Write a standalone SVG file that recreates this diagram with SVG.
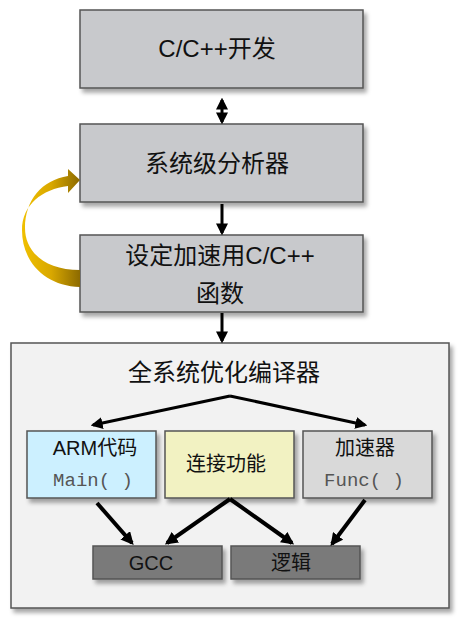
<svg xmlns="http://www.w3.org/2000/svg" width="465" height="622" viewBox="0 0 465 622">
<defs>
<filter id="sh" x="-10%" y="-10%" width="130%" height="140%">
<feDropShadow dx="3" dy="4" stdDeviation="2" flood-color="#000" flood-opacity="0.35"/>
</filter>
<linearGradient id="gold" x1="0" y1="0" x2="1" y2="0">
<stop offset="0" stop-color="#f0c000"/>
<stop offset="0.5" stop-color="#d9a800"/>
<stop offset="1" stop-color="#8c6a00"/>
</linearGradient>
<marker id="ah" viewBox="0 0 10 10" refX="8" refY="5" markerWidth="4" markerHeight="4" orient="auto-start-reverse" markerUnits="strokeWidth">
<path d="M0,0 L10,5 L0,10 Z" fill="#000"/>
</marker>
<marker id="ah2" viewBox="0 0 10 10" refX="8" refY="5" markerWidth="3.2" markerHeight="3.2" orient="auto" markerUnits="strokeWidth">
<path d="M0,0 L10,5 L0,10 Z" fill="#000"/>
</marker>
<style>
.box{stroke:#555;stroke-width:1.5;filter:url(#sh)}
.g{fill:#c8c9cc}
.t{font-family:"Liberation Sans","Noto Sans CJK SC",sans-serif;fill:#111;text-anchor:middle}
.m{font-family:"Liberation Mono",monospace;fill:#555;text-anchor:middle;font-size:19px}
.c{stroke:#000;stroke-width:3;fill:none;marker-end:url(#ah)}
.d{stroke:#000;stroke-width:4;fill:none;marker-end:url(#ah2)}
</style>
</defs>
<g id="outer">
<rect class="box" x="11" y="343" width="438" height="265" fill="#f2f2f2"/>
<text class="t" x="224" y="381" font-size="24">全系统优化编译器</text>
</g>
<g id="n1">
<rect class="box g" x="80" y="10" width="283" height="78"/>
<text class="t" x="217" y="57" font-size="24">C/C++开发</text>
</g>
<g id="n2">
<rect class="box g" x="80" y="124" width="283" height="78"/>
<text class="t" x="217" y="172" font-size="24">系统级分析器</text>
</g>
<g id="n3">
<rect class="box g" x="80" y="235" width="283" height="77"/>
<text class="t" x="220" y="264" font-size="24">设定加速用C/C++</text>
<text class="t" x="220" y="302" font-size="24">函数</text>
</g>
<g id="arm">
<rect class="box" x="27" y="431" width="129" height="67" fill="#ccf0ff"/>
<text class="t" x="95" y="455" font-size="20">ARM代码</text>
<text class="m" x="93" y="486">Main( )</text>
</g>
<g id="link">
<rect class="box" x="165" y="431" width="129" height="67" fill="#f2f2c2"/>
<text class="t" x="226" y="471" font-size="20">连接功能</text>
</g>
<g id="acc">
<rect class="box" x="303" y="431" width="129" height="67" fill="#d9d9d9"/>
<text class="t" x="365" y="455" font-size="20">加速器</text>
<text class="m" x="364" y="486">Func( )</text>
</g>
<g id="gcc">
<rect class="box" x="93" y="546" width="129" height="33" fill="#7a7a7a"/>
<text class="t" x="151" y="570" font-size="20">GCC</text>
</g>
<g id="logic">
<rect class="box" x="231" y="546" width="129" height="33" fill="#7a7a7a"/>
<text class="t" x="291" y="570" font-size="20">逻辑</text>
</g>
<g id="connectors">
<line class="c" x1="222" y1="100" x2="222" y2="122" style="marker-start:url(#ah)"/>
<line class="c" x1="222" y1="204" x2="222" y2="233"/>
<line class="c" x1="222" y1="313" x2="222" y2="341"/>
<line class="c" x1="230" y1="396" x2="93" y2="425"/>
<line class="c" x1="230" y1="396" x2="365" y2="425"/>
<line class="d" x1="97" y1="503" x2="132" y2="543"/>
<line class="d" x1="230" y1="499" x2="167" y2="543"/>
<line class="d" x1="230" y1="499" x2="292" y2="543"/>
<line class="d" x1="365" y1="500" x2="332" y2="544"/>
<path d="M80,287 C45,286 22,262 22,230 C22,205 42,189 68,186 L68,193 L80,180 L68,169 L68,176 C42,180 25,200 25,228 C25,252 45,270 80,270 Z" fill="url(#gold)"/>
</g>
</svg>
